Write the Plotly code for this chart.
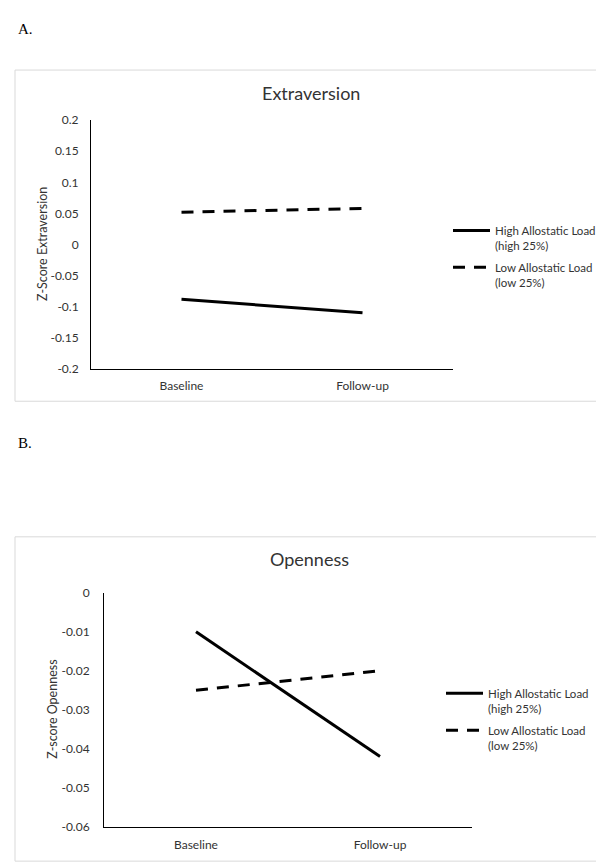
import plotly.graph_objects as go

# ---------------- data ----------------
categories = ["Baseline", "Follow-up"]

extra_high = [-0.088, -0.110]
extra_low = [0.052, 0.058]

open_high = [-0.010, -0.042]
open_low = [-0.025, -0.020]

extra_tickvals = [-0.2, -0.15, -0.1, -0.05, 0, 0.05, 0.1, 0.15, 0.2]
extra_ticktext = ["-0.2", "-0.15", "-0.1", "-0.05", "0", "0.05", "0.1", "0.15", "0.2"]
open_tickvals = [-0.06, -0.05, -0.04, -0.03, -0.02, -0.01, 0]
open_ticktext = ["-0.06", "-0.05", "-0.04", "-0.03", "-0.02", "-0.01", "0"]

name_high = "High Allostatic Load<br>(high 25%)"
name_low = "Low Allostatic Load<br>(low 25%)"

# ---------------- layout helpers ----------------
W, H = 604, 868
FONT = "Lato"
TXT = "#333333"


def px(x):
    return x / W


def py(y):
    return 1 - y / H


fig = go.Figure()

# top panel (Extraversion)
fig.add_trace(go.Scatter(x=categories, y=extra_high, mode="lines", name=name_high,
                         line=dict(color="black", width=3), xaxis="x", yaxis="y",
                         legend="legend", legendgroup="a1"))
fig.add_trace(go.Scatter(x=categories, y=extra_low, mode="lines", name=name_low,
                         line=dict(color="black", width=3, dash="12px,9px"), xaxis="x", yaxis="y",
                         legend="legend", legendgroup="a2"))

# bottom panel (Openness)
fig.add_trace(go.Scatter(x=categories, y=open_high, mode="lines", name=name_high,
                         line=dict(color="black", width=3), xaxis="x2", yaxis="y2",
                         legend="legend2", legendgroup="b1"))
fig.add_trace(go.Scatter(x=categories, y=open_low, mode="lines", name=name_low,
                         line=dict(color="black", width=3, dash="12px,9px"), xaxis="x2", yaxis="y2",
                         legend="legend2", legendgroup="b2"))

axis_common = dict(showgrid=False, zeroline=False, showline=True, linecolor="black",
                   linewidth=1, ticks="outside", tickcolor="rgba(0,0,0,0)",
                   tickfont=dict(family=FONT, size=12, color=TXT))

legend_common = dict(font=dict(family=FONT, size=11.5, color=TXT), bgcolor="rgba(0,0,0,0)",
                     borderwidth=0, xanchor="left", yanchor="top", valign="top",
                     itemwidth=37, tracegroupgap=4, itemclick=False)

fig.update_layout(
    width=W, height=H,
    margin=dict(l=0, r=0, t=0, b=0),
    paper_bgcolor="white", plot_bgcolor="white",
    showlegend=True,
    xaxis=dict(domain=[px(83), px(445)], anchor="y", type="category",
               range=[-0.5, 1.5], ticklen=6, **axis_common),
    yaxis=dict(domain=[py(359), py(106)], anchor="x", range=[-0.2, 0.2],
               tickvals=extra_tickvals, ticktext=extra_ticktext, ticklen=9, **axis_common),
    xaxis2=dict(domain=[px(96), px(464)], anchor="y2", type="category",
                range=[-0.5, 1.5], ticklen=7, **axis_common),
    yaxis2=dict(domain=[py(825), py(587)], anchor="x2", range=[-0.06, 0],
                tickvals=open_tickvals, ticktext=open_ticktext, ticklen=11, **axis_common),
    legend=dict(x=px(440), y=py(204), **legend_common),
    legend2=dict(x=px(433), y=py(675), **legend_common),
    shapes=[
        dict(type="rect", xref="paper", yref="paper", x0=px(7), x1=px(596), y0=py(392), y1=py(55),
             line=dict(color="#d9d9d9", width=1), fillcolor="rgba(0,0,0,0)", layer="below"),
        dict(type="rect", xref="paper", yref="paper", x0=px(7), x1=px(592), y0=py(860), y1=py(530),
             line=dict(color="#d9d9d9", width=1), fillcolor="rgba(0,0,0,0)", layer="below"),
    ],
    annotations=[
        dict(text="A.", x=px(8), y=py(13), xref="paper", yref="paper", xanchor="left",
             yanchor="middle", showarrow=False,
             font=dict(family="Liberation Serif", size=15, color="black")),
        dict(text="B.", x=px(8), y=py(435), xref="paper", yref="paper", xanchor="left",
             yanchor="middle", showarrow=False,
             font=dict(family="Liberation Serif", size=15, color="black")),
        dict(text="Extraversion", x=px(303), y=py(78), xref="paper", yref="paper",
             xanchor="center", yanchor="middle", showarrow=False,
             font=dict(family=FONT, size=18, color=TXT)),
        dict(text="Openness", x=px(301), y=py(553), xref="paper", yref="paper",
             xanchor="center", yanchor="middle", showarrow=False,
             font=dict(family=FONT, size=18, color=TXT)),
        dict(text="Z-Score Extraversion", x=px(35), y=py(232), xref="paper", yref="paper",
             xanchor="center", yanchor="middle", textangle=-90, showarrow=False,
             font=dict(family=FONT, size=12.5, color=TXT)),
        dict(text="Z-score Openness", x=px(45), y=py(706), xref="paper", yref="paper",
             xanchor="center", yanchor="middle", textangle=-90, showarrow=False,
             font=dict(family=FONT, size=12.5, color=TXT)),
    ],
)

fig.write_html("out.html")
